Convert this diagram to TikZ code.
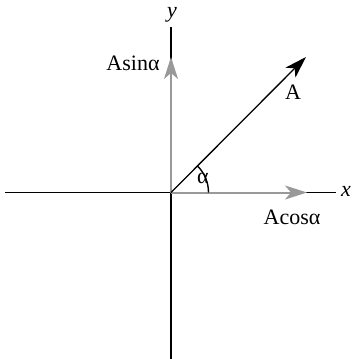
\documentclass[tikz,border=0pt]{standalone}
\usepackage{fontspec}
\setmainfont{Liberation Serif}
\usepackage{tikz}
\usetikzlibrary{arrows.meta, positioning, calc}

\begin{document}
\begin{tikzpicture}[x=1pt, y=-1pt,
  ax/.style={draw=black, line width=1.3pt},
  garr/.style={draw=black!40, line width=2pt, -{Stealth[length=22pt, width=14pt, inset=6pt]}},
  varr/.style={draw=black, line width=1.3pt, -{Stealth[length=22pt, width=14pt, inset=6pt]}},
  lbl/.style={font=\fontsize{22}{26}\selectfont, inner sep=0pt}
]
\useasboundingbox (0,0) rectangle (351,359);
\coordinate (O) at (171,192.5);
\coordinate (xl) at (5,192.5);
\coordinate (xr) at (336,192.5);
\coordinate (yt) at (171,27);
\coordinate (yb) at (171,359);
\coordinate (gy) at (171,57);
\coordinate (gx) at (307,192.5);
\coordinate (tipA) at (306,57);
% axes
\draw[ax] (xl) -- (xr);
\draw[ax] (yt) -- (yb);
\node[lbl] (xlab) at (346,191) {\itshape x};
\node[lbl] (ylab) at (172,15) {\itshape y};
% components
\draw[garr] (O) -- (gy);
\draw[garr] (O) -- (gx);
\draw[varr] (O) -- (tipA);
\draw[line width=1.4pt] ($(O)+(37.5,0)$) arc[start angle=0, end angle=-45, radius=37.5];
\node[lbl] (sinl) at (133,63) {Asinα};
\node[lbl] (cosl) at (292,217) {Acosα};
\node[lbl] (alab) at (293,92) {A};
\node[lbl] (alph) at (203,178) {α};
\end{tikzpicture}
\end{document}
